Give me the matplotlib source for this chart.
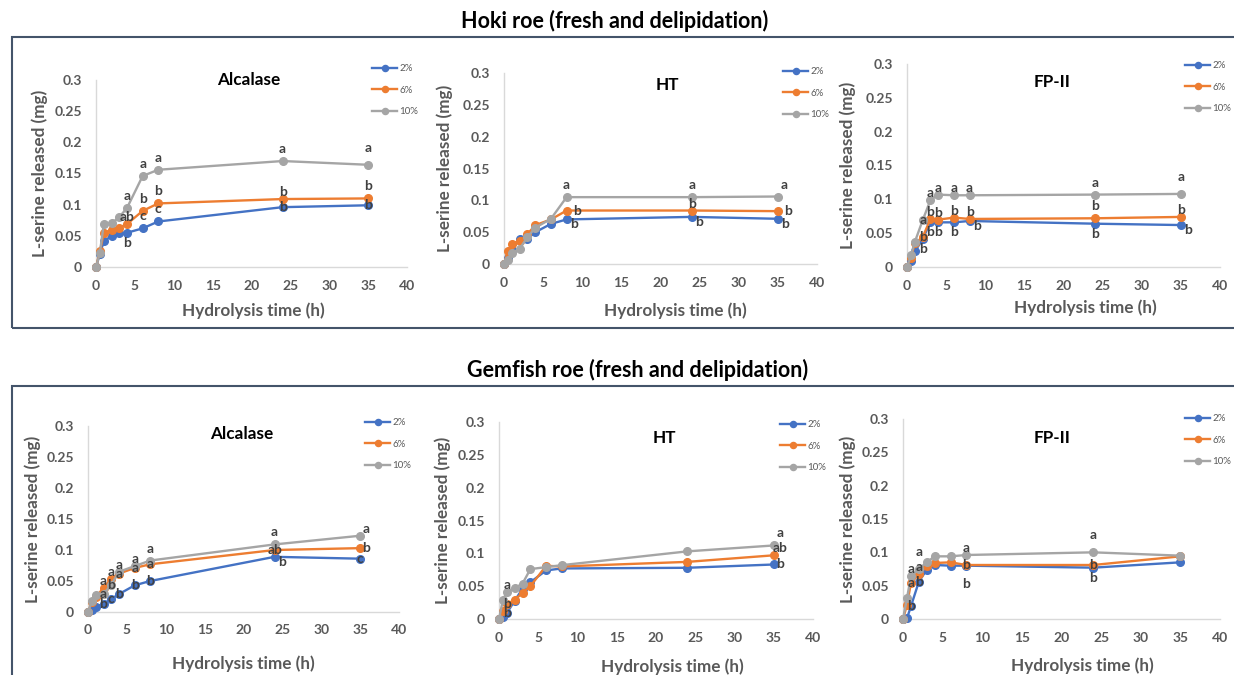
import matplotlib
matplotlib.use("Agg")
import matplotlib.pyplot as plt
from matplotlib.patches import Rectangle

plt.rcParams['font.family'] = ['Lato', 'DejaVu Sans']

W, H = 1234, 675

# hydrolysis time points (h)
time_h = [0, 0.5, 1, 2, 3, 4, 6, 8, 24, 35]
series_names = ["2%", "6%", "10%"]
colors = ["#4472C4", "#ED7D31", "#A5A5A5"]

# ---- Hoki roe ----
hoki_alc_2 = [0, 0.021, 0.041, 0.050, 0.054, 0.055, 0.062, 0.073, 0.096, 0.099]
hoki_alc_6 = [0, 0.025, 0.054, 0.060, 0.063, 0.069, 0.090, 0.102, 0.109, 0.110]
hoki_alc_10 = [0, 0.023, 0.069, 0.070, 0.080, 0.095, 0.146, 0.156, 0.170, 0.164]
hoki_alc_2_sig = ["", "", "", "", "", "b", "c", "c", "b", "b"]
hoki_alc_6_sig = ["", "", "", "", "", "ab", "b", "b", "b", "b"]
hoki_alc_10_sig = ["", "", "", "", "", "a", "a", "a", "a", "a"]

hoki_ht_2 = [0, 0.009, 0.022, 0.039, 0.040, 0.050, 0.063, 0.070, 0.074, 0.071]
hoki_ht_6 = [0, 0.020, 0.032, 0.036, 0.047, 0.061, 0.070, 0.084, 0.084, 0.083]
hoki_ht_10 = [0, 0.007, 0.017, 0.024, 0.042, 0.057, 0.071, 0.105, 0.105, 0.106]
hoki_ht_2_sig = ["", "", "", "", "", "", "", "b", "b", "b"]
hoki_ht_6_sig = ["", "", "", "", "", "", "", "b", "b", "b"]
hoki_ht_10_sig = ["", "", "", "", "", "", "", "a", "a", "a"]

hoki_fp_2 = [0, 0.009, 0.023, 0.041, 0.067, 0.066, 0.066, 0.068, 0.064, 0.062]
hoki_fp_6 = [0, 0.014, 0.035, 0.044, 0.071, 0.070, 0.073, 0.071, 0.072, 0.074]
hoki_fp_10 = [0, 0.017, 0.037, 0.069, 0.099, 0.107, 0.106, 0.106, 0.107, 0.108]
hoki_fp_2_sig = ["", "", "", "b", "b", "b", "b", "b", "b", "b"]
hoki_fp_6_sig = ["", "", "", "b", "b", "b", "b", "b", "b", "b"]
hoki_fp_10_sig = ["", "", "", "a", "a", "a", "a", "a", "a", "a"]

# ---- Gemfish roe ----
gem_alc_2 = [0, 0.003, 0.008, 0.013, 0.021, 0.029, 0.043, 0.050, 0.089, 0.086]
gem_alc_6 = [0, 0.016, 0.024, 0.039, 0.054, 0.062, 0.071, 0.077, 0.100, 0.103]
gem_alc_10 = [0, 0.017, 0.027, 0.029, 0.044, 0.065, 0.074, 0.083, 0.109, 0.123]
gem_alc_2_sig = ["", "", "", "b", "c", "b", "b", "b", "b", "c"]
gem_alc_6_sig = ["", "", "", "a", "a", "a", "a", "a", "ab", "b"]
gem_alc_10_sig = ["", "", "", "a", "b", "a", "a", "a", "a", "a"]

gem_ht_2 = [0, 0.003, 0.009, 0.028, 0.046, 0.056, 0.074, 0.077, 0.078, 0.083]
gem_ht_6 = [0, 0.012, 0.023, 0.029, 0.040, 0.050, 0.081, 0.080, 0.087, 0.097]
gem_ht_10 = [0, 0.029, 0.041, 0.047, 0.054, 0.076, 0.079, 0.082, 0.103, 0.112]
gem_ht_2_sig = ["", "", "b", "", "", "", "", "", "", "b"]
gem_ht_6_sig = ["", "", "b", "", "", "", "", "", "", "ab"]
gem_ht_10_sig = ["", "", "a", "", "", "", "", "", "", "a"]

gem_fp_2 = [0, 0.001, 0.019, 0.056, 0.074, 0.081, 0.080, 0.080, 0.077, 0.085]
gem_fp_6 = [0, 0.021, 0.054, 0.067, 0.079, 0.084, 0.085, 0.081, 0.081, 0.094]
gem_fp_10 = [0, 0.031, 0.064, 0.075, 0.085, 0.094, 0.094, 0.096, 0.100, 0.095]
gem_fp_2_sig = ["", "", "b", "b", "", "", "", "b", "b", ""]
gem_fp_6_sig = ["", "", "a", "a", "", "", "", "b", "b", ""]
gem_fp_10_sig = ["", "", "a", "a", "", "", "", "a", "a", ""]

# where each letter sits relative to its point (offset in px)
offsets = {'u': (0, 12), 'uu': (0, 17), 'n': (0, 7), 'c': (0, 0), 'd': (0, -10),
           'dd': (0, -18), 'r': (10, 0), 'ur': (6, 12), 'nr': (6, 7), 'cr': (6, 0), 'dr': (7, -5)}
place = {
    "hoki_alc": [["", "", "", "", "", "d", "u", "u", "c", "c"],
                 ["", "", "", "", "", "n", "u", "u", "n", "u"],
                 ["", "", "", "", "", "u", "u", "u", "u", "uu"]],
    "hoki_ht": [["", "", "", "", "", "", "", "dr", "dr", "dr"],
                ["", "", "", "", "", "", "", "r", "n", "r"],
                ["", "", "", "", "", "", "", "u", "u", "ur"]],
    "hoki_fp": [["", "", "", "d", "d", "d", "d", "dr", "d", "dr"],
                ["", "", "", "c", "n", "n", "n", "n", "u", "n"],
                ["", "", "", "c", "n", "n", "n", "n", "u", "uu"]],
    "gem_alc": [["", "", "", "c", "c", "c", "c", "c", "dr", "c"],
                ["", "", "", "n", "n", "c", "c", "c", "c", "cr"],
                ["", "", "", "c", "c", "n", "n", "u", "u", "nr"]],
    "gem_ht": [["", "", "c", "", "", "", "", "", "", "cr"],
               ["", "", "c", "", "", "", "", "", "", "nr"],
               ["", "", "n", "", "", "", "", "", "", "ur"]],
    "gem_fp": [["", "", "c", "c", "", "", "", "dd", "d", ""],
               ["", "", "c", "n", "", "", "", "c", "c", ""],
               ["", "", "n", "uu", "", "", "", "n", "uu", ""]],
}

# panel: key, title, series, letters, axes box px (left, right, top, bottom), title px, legend px, ylabel x, xlabel px
panels = [
    ("hoki_alc", "Alcalase", [hoki_alc_2, hoki_alc_6, hoki_alc_10], [hoki_alc_2_sig, hoki_alc_6_sig, hoki_alc_10_sig],
     (96, 407, 80, 267), (249, 80), (372, 64), 40, (253, 311)),
    ("hoki_ht", "HT", [hoki_ht_2, hoki_ht_6, hoki_ht_10], [hoki_ht_2_sig, hoki_ht_6_sig, hoki_ht_10_sig],
     (504, 817, 73, 264), (667, 85), (783, 67), 445, (675, 311)),
    ("hoki_fp", "FP-II", [hoki_fp_2, hoki_fp_6, hoki_fp_10], [hoki_fp_2_sig, hoki_fp_6_sig, hoki_fp_10_sig],
     (907, 1220, 64, 267), (1052, 82), (1185, 61), 848, (1085, 308)),
    ("gem_alc", "Alcalase", [gem_alc_2, gem_alc_6, gem_alc_10], [gem_alc_2_sig, gem_alc_6_sig, gem_alc_10_sig],
     (88, 399, 426, 612), (242, 434), (365, 418), 33, (243, 664)),
    ("gem_ht", "HT", [gem_ht_2, gem_ht_6, gem_ht_10], [gem_ht_2_sig, gem_ht_6_sig, gem_ht_10_sig],
     (499, 813, 422, 619), (664, 438), (780, 420), 443, (672, 667)),
    ("gem_fp", "FP-II", [gem_fp_2, gem_fp_6, gem_fp_10], [gem_fp_2_sig, gem_fp_6_sig, gem_fp_10_sig],
     (903, 1220, 419, 619), (1052, 438), (1185, 414), 848, (1082, 666)),
]

fig = plt.figure(figsize=(W / 100, H / 100), dpi=100)
fig.patch.set_facecolor("white")

def fx(px):
    return px / W

def fy(py):
    return 1 - py / H

# group frames
fig.patches.append(Rectangle((fx(12), fy(328)), fx(1240 - 12), (328 - 37) / H, transform=fig.transFigure,
                             fill=False, edgecolor="#44546A", lw=1.5))
fig.patches.append(Rectangle((fx(12), fy(690)), fx(1240 - 12), (690 - 386) / H, transform=fig.transFigure,
                             fill=False, edgecolor="#44546A", lw=1.5))
fig.text(fx(615), fy(21), "Hoki roe (fresh and delipidation)", ha="center", va="center",
         fontsize=15.5, fontweight="bold", color="black")
fig.text(fx(638), fy(370), "Gemfish roe (fresh and delipidation)", ha="center", va="center",
         fontsize=15.5, fontweight="bold", color="black")

tick_col = "#595959"
for key, title, series, sigs, box, tpos, lpos, ylx, xlpos in panels:
    l, r, t, b = box
    ax = fig.add_axes([fx(l), fy(b), (r - l) / W, (b - t) / H])
    for i, ys in enumerate(series):
        ax.plot(time_h, ys, color=colors[i], lw=1.7, marker="o", ms=5.5, label=series_names[i], clip_on=False, zorder=3 + i * 0.1)
        for j, lab in enumerate(sigs[i]):
            if lab:
                dx, dy = offsets[place[key][i][j]]
                ax.annotate(lab, (time_h[j], ys[j]), xytext=(dx * 0.72, dy * 0.72), textcoords="offset points",
                            ha="center", va="center", fontsize=10, fontweight="bold", color="#404040", zorder=6)
    ax.set_xlim(0, 40)
    ax.set_ylim(0, 0.3)
    ax.set_xticks(range(0, 41, 5))
    ax.set_yticks([0, 0.05, 0.1, 0.15, 0.2, 0.25, 0.3])
    ax.set_yticklabels(["0", "0.05", "0.1", "0.15", "0.2", "0.25", "0.3"])
    ax.tick_params(length=0, labelsize=10, labelcolor=tick_col)
    ax.tick_params(axis="x", pad=9)
    ax.tick_params(axis="y", pad=10)
    for lbl in ax.get_xticklabels() + ax.get_yticklabels():
        lbl.set_fontweight("bold")
    for s in ["top", "right"]:
        ax.spines[s].set_visible(False)
    for s in ["left", "bottom"]:
        ax.spines[s].set_color("#D9D9D9")
        ax.spines[s].set_linewidth(1)
    ax.patch.set_alpha(0)

    fig.text(fx(tpos[0]), fy(tpos[1]), title, ha="center", va="center", fontsize=12.3, fontweight="bold", color="black")
    fig.text(fx(ylx), fy((t + b) / 2), "L-serine released (mg)", rotation=90, ha="center", va="center",
             fontsize=12.3, fontweight="bold", color=tick_col)
    fig.text(fx(xlpos[0]), fy(xlpos[1]), "Hydrolysis time (h)", ha="center", va="center",
             fontsize=12.3, fontweight="bold", color=tick_col)
    ax.legend(loc="upper left", bbox_to_anchor=(fx(lpos[0]), fy(lpos[1])), bbox_transform=fig.transFigure,
              frameon=False, fontsize=7, labelcolor=tick_col, borderpad=0, borderaxespad=0,
              handlelength=2.6, handletextpad=0.2, labelspacing=1.3, markerscale=0.8)

fig.savefig("out.png", dpi=100)
